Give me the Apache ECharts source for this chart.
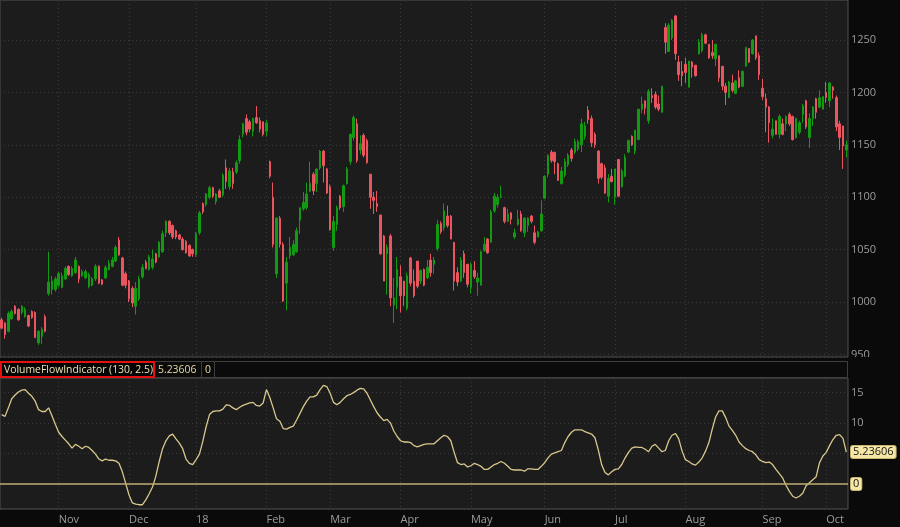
<!DOCTYPE html>
<html><head><meta charset="utf-8">
<script src="https://cdn.jsdelivr.net/npm/echarts@6/dist/echarts.min.js"></script>
<style>html,body{margin:0;padding:0;background:#0a0a0a;}#c{width:900px;height:527px;}</style>
</head><body><div id="c"></div>
<script>
const dates = [
'2017-10-09','2017-10-10','2017-10-11','2017-10-12','2017-10-13','2017-10-16','2017-10-17','2017-10-18','2017-10-19','2017-10-20','2017-10-23','2017-10-24','2017-10-25','2017-10-26','2017-10-27','2017-10-30','2017-10-31',
'2017-11-01','2017-11-02','2017-11-03','2017-11-06','2017-11-07','2017-11-08','2017-11-09','2017-11-10','2017-11-13','2017-11-14','2017-11-15','2017-11-16','2017-11-17','2017-11-20','2017-11-21','2017-11-22','2017-11-24','2017-11-27','2017-11-28','2017-11-29','2017-11-30',
'2017-12-01','2017-12-04','2017-12-05','2017-12-06','2017-12-07','2017-12-08','2017-12-11','2017-12-12','2017-12-13','2017-12-14','2017-12-15','2017-12-18','2017-12-19','2017-12-20','2017-12-21','2017-12-22','2017-12-26','2017-12-27','2017-12-28','2017-12-29',
'2018-01-02','2018-01-03','2018-01-04','2018-01-05','2018-01-08','2018-01-09','2018-01-10','2018-01-11','2018-01-12','2018-01-16','2018-01-17','2018-01-18','2018-01-19','2018-01-22','2018-01-23','2018-01-24','2018-01-25','2018-01-26','2018-01-29','2018-01-30','2018-01-31',
'2018-02-01','2018-02-02','2018-02-05','2018-02-06','2018-02-07','2018-02-08','2018-02-09','2018-02-12','2018-02-13','2018-02-14','2018-02-15','2018-02-16','2018-02-20','2018-02-21','2018-02-22','2018-02-23','2018-02-26','2018-02-27','2018-02-28',
'2018-03-01','2018-03-02','2018-03-05','2018-03-06','2018-03-07','2018-03-08','2018-03-09','2018-03-12','2018-03-13','2018-03-14','2018-03-15','2018-03-16','2018-03-19','2018-03-20','2018-03-21','2018-03-22','2018-03-23','2018-03-26','2018-03-27','2018-03-28','2018-03-29',
'2018-04-02','2018-04-03','2018-04-04','2018-04-05','2018-04-06','2018-04-09','2018-04-10','2018-04-11','2018-04-12','2018-04-13','2018-04-16','2018-04-17','2018-04-18','2018-04-19','2018-04-20','2018-04-23','2018-04-24','2018-04-25','2018-04-26','2018-04-27','2018-04-30',
'2018-05-01','2018-05-02','2018-05-03','2018-05-04','2018-05-07','2018-05-08','2018-05-09','2018-05-10','2018-05-11','2018-05-14','2018-05-15','2018-05-16','2018-05-17','2018-05-18','2018-05-21','2018-05-22','2018-05-23','2018-05-24','2018-05-25','2018-05-29','2018-05-30','2018-05-31',
'2018-06-01','2018-06-04','2018-06-05','2018-06-06','2018-06-07','2018-06-08','2018-06-11','2018-06-12','2018-06-13','2018-06-14','2018-06-15','2018-06-18','2018-06-19','2018-06-20','2018-06-21','2018-06-22','2018-06-25','2018-06-26','2018-06-27','2018-06-28','2018-06-29',
'2018-07-02','2018-07-03','2018-07-05','2018-07-06','2018-07-09','2018-07-10','2018-07-11','2018-07-12','2018-07-13','2018-07-16','2018-07-17','2018-07-18','2018-07-19','2018-07-20','2018-07-23','2018-07-24','2018-07-25','2018-07-26','2018-07-27','2018-07-30','2018-07-31',
'2018-08-01','2018-08-02','2018-08-03','2018-08-06','2018-08-07','2018-08-08','2018-08-09','2018-08-10','2018-08-13','2018-08-14','2018-08-15','2018-08-16','2018-08-17','2018-08-20','2018-08-21','2018-08-22','2018-08-23','2018-08-24','2018-08-27','2018-08-28','2018-08-29','2018-08-30','2018-08-31',
'2018-09-04','2018-09-05','2018-09-06','2018-09-07','2018-09-10','2018-09-11','2018-09-12','2018-09-13','2018-09-14','2018-09-17','2018-09-18','2018-09-19','2018-09-20','2018-09-21','2018-09-24','2018-09-25','2018-09-26','2018-09-27','2018-09-28',
'2018-10-01','2018-10-02','2018-10-03','2018-10-04','2018-10-05','2018-10-08','2018-10-09'];

const opens = [983,980,972,984,996,993,990,986,987,991,990,961,967,986,1008,1012,1012,1016,1014,1022,1034,1025,1028,1034,1025,1023,1015,1016,1022,1034,1021,1023,1031,1034,1039,1059,1042,1027,1020,1013,996,1003,1024,1038,1031,1033,1046,1043,1048,1066,1077,1073,1068,1064,1060,1058,1054,1050,1045,1066,1094,1093,1100,1109,1096,1106,1102,1128,1110,1124,1124,1135,1160,1175,1172,1163,1176,1173,1172,1163,1134,1100,1027,1080,1055,1018,1044,1045,1048,1078,1089,1090,1106,1122,1113,1128,1144,1127,1110,1052,1074,1101,1091,1113,1134,1157,1170,1145,1159,1154,1122,1100,1094,1083,1063,1046,1063,997,1014,1024,1020,994,1042,1020,1039,1020,1031,1023,1040,1036,1051,1075,1071,1082,1082,1057,1028,1020,1046,1036,1014,1030,1019,1016,1049,1060,1057,1087,1093,1100,1090,1077,1085,1062,1074,1084,1066,1073,1082,1066,1062,1068,1099,1122,1143,1143,1132,1113,1121,1131,1145,1143,1146,1150,1158,1183,1175,1160,1144,1132,1128,1101,1120,1100,1136,1110,1120,1143,1158,1144,1155,1184,1192,1173,1197,1198,1189,1181,1262,1239,1252,1273,1229,1220,1227,1205,1229,1226,1237,1240,1255,1246,1238,1232,1235,1225,1206,1195,1209,1199,1214,1206,1225,1242,1237,1254,1235,1204,1194,1186,1159,1173,1160,1170,1170,1179,1177,1157,1162,1179,1192,1157,1175,1194,1186,1184,1200,1192,1205,1195,1170,1168,1145];
const closes = [975,969,989,991,989,983,996,993,977,985,966,972,974,972,1019,1020,1022,1027,1025,1032,1026,1032,1040,1022,1029,1029,1026,1022,1034,1018,1017,1033,1037,1040,1052,1045,1016,1016,1003,999,1013,1022,1033,1032,1043,1041,1038,1057,1065,1077,1066,1062,1062,1060,1050,1047,1044,1046,1065,1085,1086,1103,1109,1101,1103,1100,1121,1115,1125,1113,1133,1155,1170,1162,1165,1175,1171,1165,1160,1171,1120,1055,1080,1055,1001,1038,1052,1055,1068,1090,1095,1103,1113,1106,1127,1144,1130,1104,1069,1077,1090,1090,1111,1127,1160,1176,1135,1151,1140,1133,1100,1097,1091,1046,1020,1052,1004,1004,1031,1006,1006,1025,1018,1006,1015,1030,1016,1033,1028,1040,1074,1067,1087,1073,1060,1020,1019,1040,1028,1017,1036,1024,1023,1048,1055,1047,1086,1101,1100,1101,1077,1084,1079,1066,1079,1068,1080,1080,1077,1057,1067,1084,1120,1140,1135,1134,1116,1125,1134,1140,1137,1153,1153,1170,1168,1174,1152,1150,1118,1119,1104,1118,1115,1127,1101,1125,1138,1154,1150,1164,1184,1189,1185,1201,1195,1186,1184,1206,1248,1264,1269,1237,1217,1216,1219,1230,1224,1216,1248,1255,1247,1233,1235,1246,1214,1206,1200,1210,1202,1211,1205,1220,1243,1229,1250,1233,1217,1196,1186,1171,1165,1160,1177,1160,1177,1170,1155,1175,1171,1187,1167,1175,1186,1181,1195,1196,1195,1209,1202,1167,1157,1149,1150];
const lows = [974,965,971,983,988,982,988,985,976,984,966,959,960,971,1006,1007,1010,1014,1013,1021,1025,1024,1027,1018,1024,1022,1013,1015,1020,1017,1016,1022,1030,1033,1038,1044,1015,1013,1000,995,988,1001,1022,1031,1030,1031,1037,1042,1047,1062,1064,1060,1060,1059,1049,1046,1043,1043,1043,1064,1084,1091,1098,1099,1093,1099,1100,1108,1107,1108,1122,1132,1157,1159,1162,1158,1170,1162,1158,1158,1118,1052,1023,1052,1000,992,1041,1044,1047,1065,1087,1088,1105,1102,1105,1126,1114,1103,1068,1049,1068,1088,1086,1112,1131,1154,1133,1141,1138,1132,1089,1084,1086,1045,1020,1007,996,980,993,990,996,992,1015,1004,1013,1017,1015,1022,1024,1027,1049,1065,1068,1071,1060,1011,1015,1019,1023,1014,1008,1022,1006,1016,1048,1046,1057,1085,1090,1099,1075,1076,1074,1060,1073,1067,1062,1067,1075,1055,1062,1067,1098,1119,1133,1122,1116,1112,1119,1129,1134,1141,1144,1143,1155,1170,1148,1147,1113,1117,1103,1095,1114,1093,1100,1109,1119,1142,1149,1141,1155,1180,1179,1170,1190,1184,1182,1181,1237,1239,1250,1231,1211,1206,1209,1205,1214,1215,1236,1238,1246,1232,1232,1225,1210,1202,1188,1195,1200,1199,1204,1205,1225,1228,1236,1231,1212,1193,1162,1152,1156,1160,1156,1159,1163,1168,1154,1156,1160,1171,1165,1147,1168,1175,1185,1184,1190,1186,1194,1163,1145,1127,1138];
const highs = [985,981,991,993,997,994,997,995,988,992,991,973,976,988,1048,1025,1024,1029,1028,1034,1035,1034,1043,1035,1031,1031,1028,1024,1036,1035,1022,1035,1040,1043,1054,1062,1043,1029,1021,1015,1019,1025,1036,1040,1045,1050,1047,1058,1068,1078,1078,1074,1069,1065,1062,1059,1055,1051,1067,1087,1095,1104,1111,1110,1104,1108,1123,1136,1128,1128,1135,1159,1171,1179,1174,1176,1187,1176,1172,1174,1135,1114,1081,1082,1057,1043,1062,1059,1071,1090,1105,1114,1134,1124,1127,1145,1145,1128,1112,1082,1092,1102,1112,1129,1161,1178,1175,1159,1161,1156,1122,1105,1106,1083,1064,1055,1065,1023,1043,1035,1020,1028,1043,1031,1039,1031,1032,1040,1046,1043,1078,1077,1094,1092,1083,1057,1033,1043,1049,1036,1038,1039,1028,1049,1062,1061,1088,1104,1103,1111,1091,1089,1086,1070,1088,1087,1081,1081,1083,1073,1068,1097,1121,1141,1145,1143,1133,1129,1137,1142,1147,1156,1155,1175,1172,1187,1178,1162,1145,1133,1131,1122,1127,1127,1136,1127,1141,1155,1159,1164,1184,1196,1192,1203,1204,1201,1197,1206,1266,1266,1270,1274,1235,1230,1233,1230,1230,1226,1251,1257,1256,1246,1250,1246,1235,1225,1209,1211,1217,1212,1221,1221,1243,1242,1251,1254,1238,1213,1199,1187,1175,1173,1179,1175,1178,1181,1178,1176,1173,1189,1193,1180,1187,1195,1202,1196,1210,1210,1206,1197,1173,1168,1154];

const vfi = [11.4,11.1,12.5,14.0,14.6,15.1,15.4,15.5,14.9,14.4,13.6,12.2,11.9,11.9,12.5,11.2,9.8,8.5,7.8,7.2,6.6,5.9,6.5,6.2,5.8,6.2,6.0,5.5,4.9,4.1,3.8,4.1,3.9,3.9,3.8,3.4,2.0,0.1,-1.8,-3.1,-3.3,-3.4,-3.4,-2.6,-1.6,-0.5,1.3,3.7,5.8,7.1,7.9,8.2,7.4,6.7,5.8,4.1,3.4,3.2,4.0,4.9,7.0,9.4,11.4,11.9,12.0,12.0,12.3,13.0,12.9,12.5,12.2,12.6,12.9,13.1,13.3,13.4,12.9,12.8,13.3,15.5,14.2,12.5,10.7,10.3,9.1,9.0,9.3,9.5,10.5,11.6,12.7,13.6,14.3,14.3,14.6,15.5,16.2,16.0,14.9,13.4,13.0,13.4,14.0,14.5,14.7,15.0,15.4,15.7,15.6,14.9,13.8,12.7,11.7,11.0,10.4,10.6,10.0,8.7,7.8,7.1,6.9,6.9,6.8,6.3,6.1,6.3,6.5,6.6,6.6,6.6,7.1,7.6,8.0,7.8,7.1,5.2,3.5,3.2,3.3,2.8,3.0,3.4,3.2,2.9,2.4,2.4,2.8,3.2,3.4,3.7,3.4,2.9,2.4,2.3,2.3,2.3,2.1,2.5,2.5,2.4,2.4,2.9,3.5,4.3,4.9,5.1,5.3,5.5,6.8,7.8,8.5,8.9,8.9,8.9,8.6,8.4,8.2,7.6,5.6,3.2,1.9,1.5,2.0,2.4,2.5,3.2,4.3,5.2,5.9,6.1,6.0,6.0,5.7,5.3,6.2,6.5,5.9,5.3,5.5,7.1,8.0,8.3,7.4,5.4,4.0,3.7,3.3,3.1,3.6,4.3,5.4,6.8,9.0,11.0,12.0,12.0,10.9,9.5,8.8,8.0,6.9,6.3,5.8,5.5,5.3,4.8,4.0,3.7,3.5,3.6,3.2,2.4,1.7,1.0,-0.2,-1.2,-2.0,-2.3,-2.0,-1.5,-0.3,0.2,0.7,1.2,3.5,4.6,5.2,6.3,7.3,8.0,8.1,7.5,5.23606];

const tickDates = ['2017-11-01','2017-12-01','2018-01-02','2018-02-01','2018-03-01','2018-04-02','2018-05-01','2018-06-01','2018-07-02','2018-08-01','2018-09-04','2018-10-01'];
const tickLabels = ['Nov','Dec','18','Feb','Mar','Apr','May','Jun','Jul','Aug','Sep','Oct'];
const priceLabels = [950,1000,1050,1100,1150,1200,1250];
const vfiLabels = [10,15];
const indicatorName = 'VolumeFlowIndicator (130, 2.5)';
const lastValueText = '5.23606';
const zeroText = '0';

const tickMap = {};
tickDates.forEach((d, i) => { tickMap[d] = tickLabels[i]; });
const isTick = (idx, val) => Object.prototype.hasOwnProperty.call(tickMap, val);
const candleData = dates.map((d, i) => [opens[i], closes[i], lows[i], highs[i]]);

const FONT = 'Open Sans';
const gridDots = { color: '#3b3b3b', type: [1, 3], width: 1 };
const vSplit = { show: true, interval: isTick, alignWithLabel: true, lineStyle: gridDots };
const tagLabel = { show: true, position: 'end', distance: 3, color: '#141414', fontSize: 11, fontFamily: FONT,
  backgroundColor: '#f5e7a6', borderColor: '#c8b46e', borderWidth: 1, borderRadius: 2, padding: [1, 2, 0, 2] };

const chart = echarts.init(document.getElementById('c'));
chart.setOption({
  backgroundColor: '#0a0a0a',
  animation: false,
  grid: [
    { left: 0, top: 0, width: 848, height: 357, show: true, backgroundColor: '#1c1c1c', borderColor: '#505050', borderWidth: 1 },
    { left: 0, top: 378, width: 848, height: 131, show: true, backgroundColor: '#1c1c1c', borderColor: '#505050', borderWidth: 1 }
  ],
  xAxis: [
    { type: 'category', gridIndex: 0, data: dates, boundaryGap: true,
      axisLine: { show: false }, axisTick: { show: false }, axisLabel: { show: false }, splitLine: vSplit },
    { type: 'category', gridIndex: 1, data: dates, boundaryGap: true,
      axisLine: { show: false }, axisTick: { show: false },
      axisLabel: { show: true, interval: isTick, formatter: v => tickMap[v] || '', color: '#9c9c9c', fontSize: 11, fontFamily: FONT, align: 'left', margin: 5 },
      splitLine: vSplit }
  ],
  yAxis: [
    { type: 'value', gridIndex: 0, position: 'right', min: 947.5, max: 1288.2, scale: true,
      axisLine: { show: false }, axisTick: { show: false },
      axisLabel: { color: '#9c9c9c', fontSize: 11, fontFamily: FONT, margin: 3, formatter: v => priceLabels.indexOf(v) >= 0 ? String(v) : '' },
      splitLine: { show: true, lineStyle: gridDots } },
    { type: 'value', gridIndex: 1, position: 'right', min: -4.1, max: 17.4,
      axisLine: { show: false }, axisTick: { show: false },
      axisLabel: { color: '#9c9c9c', fontSize: 11, fontFamily: FONT, margin: 3, formatter: v => vfiLabels.indexOf(v) >= 0 ? String(v) : '' },
      splitLine: { show: true, lineStyle: gridDots } }
  ],
  series: [
    { type: 'candlestick', xAxisIndex: 0, yAxisIndex: 0, data: candleData, barWidth: 2,
      itemStyle: { color: '#139a13', color0: '#ea5560', borderColor: '#139a13', borderColor0: '#ea5560', borderWidth: 1 } },
    { type: 'line', xAxisIndex: 1, yAxisIndex: 1, data: vfi, showSymbol: false, symbol: 'none', z: 3,
      lineStyle: { color: '#d8c88c', width: 1.3 },
      markLine: { silent: true, symbol: ['none', 'none'], animation: false, label: tagLabel,
        data: [
          { yAxis: 0, lineStyle: { color: '#bcad72', width: 1.6, type: 'solid' }, label: { formatter: zeroText } },
          { yAxis: vfi[vfi.length - 1], lineStyle: { color: 'rgba(0,0,0,0)', width: 0 }, label: { formatter: lastValueText } }
        ] } }
  ],
  graphic: [
    { type: 'rect', z: 100, shape: { x: 849, y: 357, width: 51, height: 20 }, style: { fill: '#0a0a0a' } },
    { type: 'rect', z: 100, shape: { x: 0.5, y: 361.5, width: 847, height: 16 }, style: { fill: '#0b0b0b', stroke: '#3e3e3e', lineWidth: 1 } },
    { type: 'rect', z: 101, shape: { x: 1, y: 362, width: 153, height: 15 }, style: { fill: '#050505', stroke: '#e3120f', lineWidth: 2 } },
    { type: 'text', z: 102, x: 4, y: 370, style: { text: indicatorName, fill: '#ede1b2', font: '10.4px "Open Sans"', verticalAlign: 'middle' } },
    { type: 'text', z: 102, x: 158, y: 370, style: { text: lastValueText, fill: '#e8dba4', font: '10.4px "Open Sans"', verticalAlign: 'middle' } },
    { type: 'line', z: 102, shape: { x1: 201.5, y1: 362, x2: 201.5, y2: 377 }, style: { stroke: '#3e3e3e', lineWidth: 1 } },
    { type: 'text', z: 102, x: 205, y: 370, style: { text: zeroText, fill: '#e8dba4', font: '10.4px "Open Sans"', verticalAlign: 'middle' } },
    { type: 'line', z: 102, shape: { x1: 214.5, y1: 362, x2: 214.5, y2: 377 }, style: { stroke: '#3e3e3e', lineWidth: 1 } }
  ]
});
</script></body></html>
